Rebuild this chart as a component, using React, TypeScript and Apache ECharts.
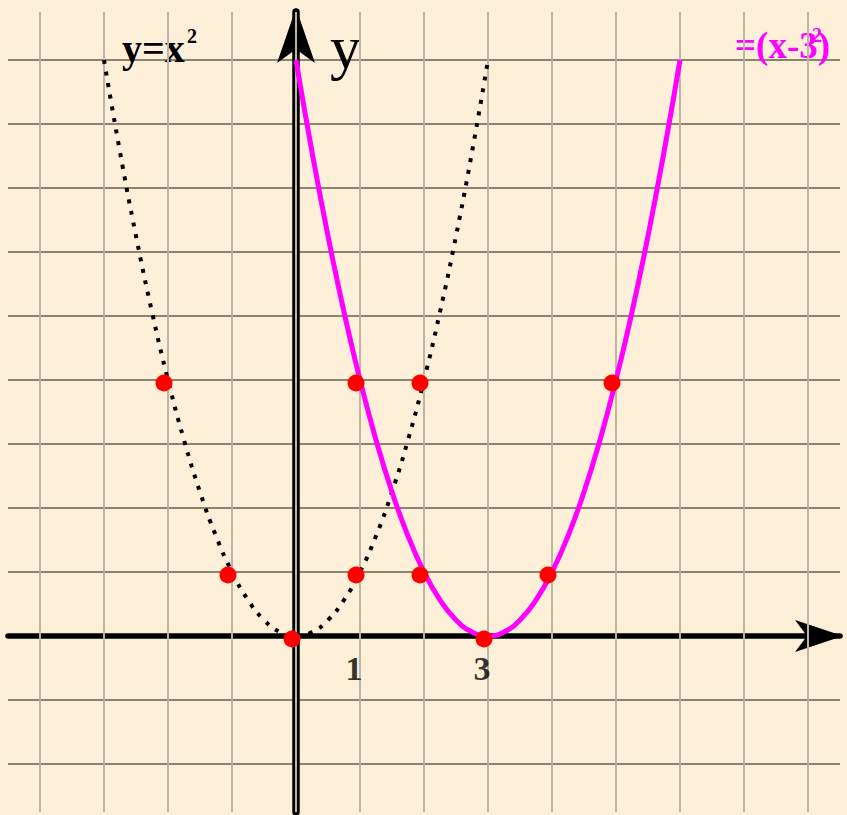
import React, { useEffect, useRef } from "react";
import * as echarts from "echarts";

// grid line positions (axis units)
const gridXs = [-4, -3, -2, -1, 0, 1, 2, 3, 4, 5, 6, 7, 8];
const gridYs = [-2, -1, 0, 1, 2, 3, 4, 5, 6, 7, 8, 9];

// y = x^2 (dotted black)
const curveA: [number, number][] = [
  [-3, 9], [-2.75, 7.5625], [-2.5, 6.25], [-2.25, 5.0625], [-2, 4], [-1.75, 3.0625],
  [-1.5, 2.25], [-1.25, 1.5625], [-1, 1], [-0.75, 0.5625], [-0.5, 0.25], [-0.25, 0.0625],
  [0, 0], [0.25, 0.0625], [0.5, 0.25], [0.75, 0.5625], [1, 1], [1.25, 1.5625],
  [1.5, 2.25], [1.75, 3.0625], [2, 4], [2.25, 5.0625], [2.5, 6.25], [2.75, 7.5625], [3, 9],
];

// y = (x-3)^2 (magenta)
const curveB: [number, number][] = [
  [0, 9], [0.25, 7.5625], [0.5, 6.25], [0.75, 5.0625], [1, 4], [1.25, 3.0625],
  [1.5, 2.25], [1.75, 1.5625], [2, 1], [2.25, 0.5625], [2.5, 0.25], [2.75, 0.0625],
  [3, 0], [3.25, 0.0625], [3.5, 0.25], [3.75, 0.5625], [4, 1], [4.25, 1.5625],
  [4.5, 2.25], [4.75, 3.0625], [5, 4], [5.25, 5.0625], [5.5, 6.25], [5.75, 7.5625], [6, 9],
];

// red marked points
const redPoints: [number, number][] = [
  [-2, 4], [-1, 1], [0, 0], [1, 1], [2, 4],
  [1, 4], [2, 1], [3, 0], [4, 1], [5, 4],
];

// x tick labels shown under the axis
const xTickLabels = [1, 3];

const SERIF = "'Liberation Serif', 'Times New Roman', serif";

export default function App() {
  const ref = useRef<HTMLDivElement>(null);

  useEffect(() => {
    if (!ref.current) return;
    const chart = echarts.init(ref.current, undefined, { renderer: "svg" });
    const option: any = {
      animation: false,
      backgroundColor: "#feefd9",
      grid: {
        left: 8,
        right: 7,
        top: 12,
        bottom: 3,
        containLabel: false,
        outerBoundsMode: "none",
      },
      xAxis: {
        type: "value",
        min: -4.5,
        max: 8.5,
        z: 1,
        splitLine: { show: false },
        axisTick: { show: false },
        axisLabel: { show: false },
        axisLine: {
          onZero: true,
          symbol: ["none", "arrow"],
          symbolSize: [24, 48],
          symbolOffset: [0, 3],
          lineStyle: { color: "#000", width: 5.5 },
        },
      },
      yAxis: {
        type: "value",
        min: -2.75,
        max: 9.75,
        z: 1,
        splitLine: { show: false },
        axisTick: { show: false },
        axisLabel: { show: false },
        axisLine: {
          onZero: true,
          symbol: ["none", "arrow"],
          symbolSize: [28.5, 55],
          symbolOffset: [0, 4],
          lineStyle: { color: "#000", width: 7.5 },
        },
      },
      series: [
        {
          // horizontal grid lines (below the axes)
          type: "line",
          data: [],
          silent: true,
          markLine: {
            z: -1,
            silent: true,
            symbol: ["none", "none"],
            label: { show: false },
            emphasis: { disabled: true },
            data: gridYs.map((v) => ({
              yAxis: v,
              lineStyle: { color: "#8c8276", width: 2, type: "solid" },
            })),
          },
        },
        {
          // vertical grid lines (drawn over the axes)
          type: "line",
          data: [],
          silent: true,
          markLine: {
            z: 1.5,
            silent: true,
            symbol: ["none", "none"],
            label: { show: false },
            emphasis: { disabled: true },
            data: gridXs.map((v) => ({
              xAxis: v,
              lineStyle: { color: "#bdb3a6", width: 2, type: "solid" },
            })),
          },
        },
        {
          type: "line",
          data: curveA,
          smooth: 0.5,
          showSymbol: false,
          silent: true,
          z: 2,
          lineStyle: { color: "#000", width: 4, type: [4, 7.8] },
        },
        {
          type: "line",
          data: curveB,
          smooth: 0.5,
          showSymbol: false,
          silent: true,
          z: 2,
          lineStyle: { color: "#ff00ff", width: 5 },
        },
        {
          type: "scatter",
          data: redPoints,
          symbolSize: 17,
          symbolOffset: [-4, 3],
          itemStyle: { color: "#ff0000", opacity: 1 },
          z: 4,
          silent: true,
        },
        {
          type: "scatter",
          data: xTickLabels.map((v) => [v, 0]),
          symbolSize: 0,
          silent: true,
          z: 4,
          label: {
            show: true,
            position: "inside",
            offset: [-6, 32],
            formatter: (p: any) => String(p.value[0]),
            fontSize: 34,
            fontWeight: "bold",
            fontFamily: SERIF,
            color: "#000",
          },
        },
      ],
      graphic: [
        {
          type: "text",
          x: 122,
          y: 48.5,
          style: {
            text: "y=x",
            fontSize: 40,
            fontWeight: "bold",
            fontFamily: SERIF,
            fill: "#000",
            align: "left",
            verticalAlign: "middle",
          },
        },
        {
          type: "text",
          x: 187,
          y: 36,
          style: {
            text: "2",
            fontSize: 20,
            fontWeight: "bold",
            fontFamily: SERIF,
            fill: "#000",
            align: "left",
            verticalAlign: "middle",
          },
        },
        {
          type: "text",
          x: 330,
          y: 46.5,
          style: {
            text: "y",
            fontSize: 62,
            fontFamily: SERIF,
            fill: "#000",
            align: "left",
            verticalAlign: "middle",
          },
        },
        {
          type: "text",
          x: 735,
          y: 45,
          style: {
            text: "=(x-3)",
            fontSize: 37,
            fontWeight: "bold",
            fontFamily: SERIF,
            fill: "#ff00ff",
            align: "left",
            verticalAlign: "middle",
          },
        },
        {
          type: "text",
          x: 812,
          y: 35,
          style: {
            text: "2",
            fontSize: 20,
            fontWeight: "bold",
            fontFamily: SERIF,
            fill: "#ff00ff",
            align: "left",
            verticalAlign: "middle",
          },
        },
      ],
    };
    chart.setOption(option);
    return () => chart.dispose();
  }, []);

  return (
    <div
      ref={ref}
      style={{
        position: "absolute",
        left: 0,
        top: 0,
        width: 847,
        height: 815,
        background: "#feefd9",
      }}
    />
  );
}
